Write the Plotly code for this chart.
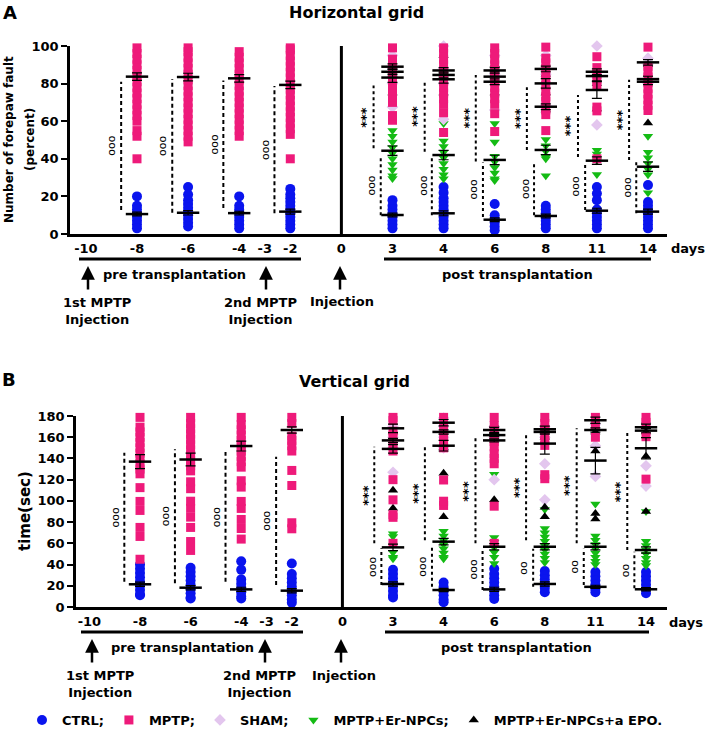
import plotly.graph_objects as go

# ---------------- data ----------------
days = [-10, -8, -6, -4, -2, 0, 3, 4, 6, 8, 11, 14]
tick_days = [-10, -8, -6, -4, -3, -2, 0, 3, 4, 6, 8, 11, 14]
pre_days = [-8, -6, -4, -2]
post_days = [3, 4, 6, 8, 11, 14]
all_days = pre_days + post_days

# Panel A (horizontal grid, % forepaw faults) individual values, aligned with all_days / post_days
ctrl_A = [[20, 15, 13, 11, 9, 7, 5, 3],
          [25, 21, 18, 16, 14, 12, 10, 8, 6, 4],
          [20, 15, 13, 11, 9, 7, 5, 3],
          [24, 21, 19, 17, 15, 13, 11, 9, 7, 5, 3],
          [18, 15, 13, 11, 9, 7, 5, 3],
          [25, 22, 19, 17, 15, 13, 11, 9, 7, 5, 3],
          [16, 10, 8, 6, 4, 2],
          [15, 13, 11, 9, 7, 5, 3],
          [25, 21.5, 18, 13, 11, 9, 7, 5, 3],
          [26, 17, 15, 13, 11, 9, 7, 5, 3]]
mptp_A = [[40, 52, 55, 60, 63, 66, 69, 72, 75, 78, 81, 84, 87, 90, 93, 96, 99],
          [49, 52, 55, 58, 61, 64, 67, 70, 73, 76, 79, 82, 85, 88, 91, 94, 97, 99],
          [52, 55, 58, 61, 64, 67, 70, 73, 76, 79, 82, 85, 88, 91, 94, 97],
          [40, 53, 56, 59, 62, 65, 68, 71, 74, 77, 80, 83, 86, 89, 92, 95, 98, 99],
          [60.5, 63, 70, 73, 76, 79, 82, 85, 88, 91, 93, 99],
          [54, 64.5, 69, 72, 75, 78, 81, 84, 87, 90, 93, 96, 99],
          [54.5, 64, 69, 72, 75, 78, 81, 84, 87, 90, 93, 96, 99],
          [55, 63.5, 66, 70.5, 73, 76, 79, 82, 85, 88, 91, 93.5, 99.4],
          [40, 65.5, 67.5, 79, 82, 85, 88.5, 94.3],
          [65.7, 68.5, 71.5, 74.5, 77.5, 80.5, 83.5, 86.5, 89.2, 99.4]]
sham_A = [[67.5, 80, 88, 95], [61, 80, 88, 100], [66, 85, 95],
          [68.5, 85, 95], [58, 84, 86, 100], [93.5, 80, 90]]
npc_A = [[55, 52, 49, 46, 43, 40, 37, 34, 31, 29.5],
         [58.8, 49.5, 46.5, 43.5, 40.5, 37.5, 34.5, 31.5, 29.4],
         [58.8, 49, 41.4, 38.4, 35.4, 32.4, 29.4, 28.4],
         [50.3, 47, 44, 41, 40, 31],
         [44.5, 42.5, 39, 31.7],
         [52, 43.5, 40.5, 37.5, 34.5, 31.5, 22]]
epo_A = [[75, 85, 90], [75, 85, 95], [75, 85, 90],
         [66, 75, 85], [66.5, 80, 85], [59, 85, 90]]

ctrl_mean_A = [10.6, 11.3, 11.1, 11.9, 10.1, 11.0, 7.6, 9.6, 12.4, 11.9]
ctrl_sem_A = [1.0, 1.2, 1.0, 1.3, 1.0, 1.3, 1.0, 1.0, 1.3, 1.3]
mptp_mean_A = [83.7, 83.5, 82.8, 79.3, 83.2, 82.3, 83.7, 80.1, 84.0, 82.4]
mptp_sem_A = [2.0, 2.0, 2.0, 2.0, 2.5, 2.0, 2.5, 2.5, 2.5, 1.5]
sham_mean_A = [89.0, 87.0, 87.0, 87.8, 86.3, 91.3]
sham_sem_A = [1.5, 1.5, 1.5, 1.5, 1.5, 1.5]
npc_mean_A = [44.3, 42.0, 39.4, 44.7, 39.0, 35.8]
npc_sem_A = [2.5, 2.5, 2.5, 2.5, 2.0, 2.5]
epo_mean_A = [86.3, 84.6, 81.0, 67.7, 76.6, 81.0]
epo_sem_A = [1.5, 1.5, 1.5, 1.5, 4.5, 1.5]

# significance spans, panel A
pre_top_A = [81, 82.4, 81.7, 78.7]
pre_bot_A = [12.8, 11.3, 13.8, 11]
s1_top_A = [79, 81, 84.6, 78, 74, 82]
s1_bot_A = [45.6, 43.8, 38.5, 44.7, 41, 39.4]
s2_top_A = [41, 41, 38, 37.7, 37.7, 38.5]
s2_bot_A = [10, 10, 9, 10, 12.8, 11]
s2_mark_A = ["ooo", "ooo", "ooo", "ooo", "ooo", "ooo"]

# Panel B (vertical grid, time in sec)
ctrl_B = [[40, 36, 32, 28, 24, 20, 16, 12, 11],
          [37, 33, 29, 25, 21, 17, 13, 9, 8],
          [43, 35, 26, 22, 18, 14, 10, 8],
          [41, 31, 27, 23, 19, 15, 11, 7, 4],
          [35, 31, 27, 23, 19, 15, 11, 9],
          [23, 19, 15, 11, 7, 4.5],
          [36, 31, 27, 23, 19, 15, 11, 7.5],
          [34, 30, 26, 22, 18, 14],
          [33, 29, 25, 21, 17, 14],
          [33, 29, 25, 21, 17, 13]]
mptp_B = [[45, 66.5, 75, 91, 99.5, 112.5, 125.5, 130, 135, 140, 145, 150, 155, 160, 165, 169.5, 178.7],
          [53.3, 61.7, 75, 84.7, 93, 99.7, 111.5, 118, 128.3, 133, 138, 143, 148, 153, 158, 163, 168, 173, 178.7],
          [64, 74, 82.5, 92.9, 99.5, 113, 119, 131.8, 137, 142, 147, 152, 157, 162, 167, 172, 178.7],
          [73.7, 79.4, 114.5, 128.7, 147, 152, 157, 161, 173, 178.7],
          [60, 84.5, 87, 101, 120, 147, 152, 161.7, 165.7, 175.7, 178.7],
          [95.7, 99.7, 119.7, 150, 155, 161.7, 169, 178.7],
          [60, 95, 135, 140, 144.5, 151, 156, 161, 166, 171, 178.7],
          [120.9, 124.7, 152.3, 157, 162, 167, 173, 178.7],
          [160, 170.5, 178.7],
          [120.5, 160.5, 174, 178.7]]
sham_B = [[127, 150, 160, 170], [160, 150, 170, 178], [120, 160, 170],
          [101, 135, 160, 170], [123, 152, 172], [114, 133, 170]]
npc_B = [[69, 66.5, 51.3, 47, 45.5],
         [71.5, 67, 63, 59, 55, 51, 47, 45.5],
         [125, 65.5, 61, 56, 51.6, 47, 41],
         [92, 74, 70, 66, 62, 58, 54, 50, 46, 42],
         [97, 67, 63, 59, 55, 51, 47, 43, 40],
         [90, 62, 58, 54, 50, 46, 42, 39]]
epo_B = [[93, 110, 150, 165], [85, 126, 150, 165], [101, 160, 172],
         [85, 94, 160, 170], [83, 88, 147, 165, 175], [90, 142, 165, 175]]

ctrl_mean_B = [21.4, 18.2, 16.6, 15.4, 21.7, 16.0, 16.6, 21.7, 19.0, 16.7]
ctrl_sem_B = [2.0, 2.0, 2.0, 2.0, 2.0, 1.5, 2.0, 2.0, 1.5, 1.5]
mptp_mean_B = [137, 139, 151.7, 166.8, 168.4, 173.7, 166.8, 167.5, 176, 169.4]
mptp_sem_B = [6.6, 6.0, 4.7, 3.0, 4.0, 3.0, 2.5, 3.0, 3.0, 3.0]
sham_mean_B = [157, 165, 162, 165, 166.8, 166.2]
sham_sem_B = [2.0, 2.0, 1.5, 2.0, 2.0, 2.0]
npc_mean_B = [56.2, 61.6, 56.8, 56.8, 56.8, 53.7]
npc_sem_B = [3.0, 3.0, 3.0, 3.0, 3.0, 3.0]
epo_mean_B = [149, 152, 157, 154, 138, 149.6]
epo_sem_B = [4.0, 5.0, 1.5, 10.0, 12.5, 10.0]

pre_top_B = [145.4, 148.6, 146, 141.7]
pre_bot_B = [23.9, 22.3, 23.9, 20.7]
s1_top_B = [151, 151, 159, 162, 168.4, 164]
s1_bot_B = [60, 63, 60, 63, 60, 53.7]
s2_top_B = [55.3, 56.8, 55.6, 55, 55, 52]
s2_bot_B = [20.7, 19, 16, 19, 20.7, 17.6]
s2_mark_B = ["ooo", "ooo", "ooo", "oo", "oo", "oo"]

group_names = ["CTRL;", "MPTP;", "SHAM;", "MPTP+Er-NPCs;", "MPTP+Er-NPCs+a EPO."]
group_colors = ["#0a14ee", "#ee1a7a", "#e3c6ee", "#14bb14", "#000000"]
group_symbols = ["circle", "square", "diamond", "triangle-down", "triangle-up"]

# ---------------- helpers ----------------
W, H = 709, 743
def px(x):
    return x / W
def py(y):
    return 1 - y / H

slot = {d: float(i) for i, d in enumerate(days)}
slot[-3] = (slot[-4] + slot[-2]) / 2

def flat(day_list, groups):
    xs, ys = [], []
    for d, vals in zip(day_list, groups):
        for v in vals:
            xs.append(slot[d])
            ys.append(v)
    return xs, ys

BOLD = dict(family="DejaVu Sans", weight="bold", color="black")

fig = go.Figure()

def add_panel(xa, ya, first, ctrl, mptp, sham, npc, epo, means, sems):
    # draw order: CTRL, Er-NPCs, SHAM, EPO, MPTP
    order = [(0, all_days, ctrl, 10), (3, post_days, npc, 9), (2, post_days, sham, 9),
             (4, post_days, epo, 9), (1, all_days, mptp, 9)]
    for gi, dl, vals, sz in order:
        xs, ys = flat(dl, vals)
        fig.add_trace(go.Scatter(
            x=xs, y=ys, mode="markers", xaxis=xa, yaxis=ya,
            name=group_names[gi], legendgroup=group_names[gi], legendrank=gi + 1,
            showlegend=first,
            marker=dict(symbol=group_symbols[gi], size=sz, color=group_colors[gi],
                        line=dict(width=0)),
            cliponaxis=False, hoverinfo="skip"))
    for gi, dl in [(0, all_days), (3, post_days), (2, post_days), (4, post_days), (1, all_days)]:
        m, s = means[gi], sems[gi]
        fig.add_trace(go.Scatter(
            x=[slot[d] for d in dl], y=m, mode="markers", xaxis=xa, yaxis=ya,
            showlegend=False, cliponaxis=False, hoverinfo="skip",
            marker=dict(symbol="line-ew", size=16, color="black",
                        line=dict(width=2.5, color="black")),
            error_y=dict(type="data", array=s, color="black", thickness=1.2, width=5)))

add_panel("x", "y", True, ctrl_A, mptp_A, sham_A, npc_A, epo_A,
          [ctrl_mean_A, mptp_mean_A, sham_mean_A, npc_mean_A, epo_mean_A],
          [ctrl_sem_A, mptp_sem_A, sham_sem_A, npc_sem_A, epo_sem_A])
add_panel("x2", "y2", False, ctrl_B, mptp_B, sham_B, npc_B, epo_B,
          [ctrl_mean_B, mptp_mean_B, sham_mean_B, npc_mean_B, epo_mean_B],
          [ctrl_sem_B, mptp_sem_B, sham_sem_B, npc_sem_B, epo_sem_B])

shapes = []
annotations = []

def txt(x, y, text, size, bold=True, angle=0, xref="paper", yref="paper"):
    f = dict(size=size, **BOLD) if bold else dict(family="DejaVu Sans", size=size, color="black")
    return dict(xref=xref, yref=yref, x=x, y=y, text=text, showarrow=False,
                textangle=angle, xanchor="center", yanchor="middle", font=f)

OOO_FONT = 11

def sig_panel(xr, yr, pre_top, pre_bot, s1_top, s1_bot, s2_top, s2_bot, s2_mark, zero_top):
    # vertical line at transplantation day 0
    shapes.append(dict(type="line", xref=xr, yref=yr, x0=slot[0], x1=slot[0], y0=0, y1=zero_top,
                       line=dict(color="black", width=3)))
    for d, t, b in zip(pre_days, pre_top, pre_bot):
        x = slot[d] - 0.31
        shapes.append(dict(type="line", xref=xr, yref=yr, x0=x, x1=x, y0=b, y1=t,
                           line=dict(color="black", width=2, dash="4px,3px")))
        annotations.append(txt(slot[d] - 0.49, (t + b) / 2, "ooo", OOO_FONT, bold=False,
                               angle=-90, xref=xr, yref=yr))
    for d, t1, b1, t2, b2, mk in zip(post_days, s1_top, s1_bot, s2_top, s2_bot, s2_mark):
        x1 = slot[d] - 0.37
        x2 = slot[d] - 0.23
        shapes.append(dict(type="line", xref=xr, yref=yr, x0=x1, x1=x1, y0=b1, y1=t1,
                           line=dict(color="black", width=2, dash="dot")))
        shapes.append(dict(type="line", xref=xr, yref=yr, x0=x2, x1=x2, y0=b2, y1=t2,
                           line=dict(color="black", width=2, dash="dot")))
        annotations.append(txt(slot[d] - 0.52, (t1 + b1) / 2, "***", 13, angle=-90,
                               xref=xr, yref=yr))
        annotations.append(txt(slot[d] - 0.41, (t2 + b2) / 2, mk, OOO_FONT, bold=False,
                               angle=-90, xref=xr, yref=yr))

sig_panel("x", "y", pre_top_A, pre_bot_A, s1_top_A, s1_bot_A, s2_top_A, s2_bot_A, s2_mark_A, 103)
sig_panel("x2", "y2", pre_top_B, pre_bot_B, s1_top_B, s1_bot_B, s2_top_B, s2_bot_B, s2_mark_B, 184.7)

def timeline(off, pre_x, post_x, arrows_x, t1x, t2x, injx, prex, postx, daysx):
    for (a, b) in [pre_x, post_x]:
        shapes.append(dict(type="line", xref="paper", yref="paper", x0=px(a), x1=px(b),
                           y0=py(259 + off), y1=py(259 + off), line=dict(color="black", width=3)))
    for ax_ in arrows_x:
        annotations.append(dict(xref="paper", yref="paper", x=px(ax_), y=py(266 + off), ax=0, ay=25,
                                text="", showarrow=True, arrowhead=2, arrowsize=1.1,
                                arrowwidth=2.5, arrowcolor="black"))
    annotations.append(txt(px(prex), py(274 + off), "pre transplantation", 13))
    annotations.append(txt(px(postx), py(274 + off), "post transplantation", 13))
    annotations.append(txt(px(t1x), py(311 + off), "1st MPTP<br>Injection", 13))
    annotations.append(txt(px(t2x), py(311 + off), "2nd MPTP<br>Injection", 13))
    annotations.append(txt(px(injx), py(302 + off), "Injection", 13))
    annotations.append(txt(px(daysx), py(249 + off), "days", 13))

timeline(0, (79, 301), (384, 651), [88, 266, 340], 97, 260, 342, 174, 517, 688)
timeline(373, (81, 303), (385, 649), [92, 265, 341], 100, 259, 344, 182, 516, 686)

# panel letters, titles, axis titles
annotations += [
    txt(px(10), py(13), "A", 18),
    txt(px(9), py(379), "B", 18),
    txt(px(356), py(12), "Horizontal grid", 16),
    txt(px(354), py(381), "Vertical grid", 16),
    txt(px(9), py(140), "Number of forepaw fault", 12, angle=-90),
    txt(px(30), py(139), "(percent)", 12, angle=-90),
    txt(px(25), py(511), "time(sec)", 15, angle=-90),
]

tickvals = [slot[d] for d in tick_days]
ticktext = [str(d) for d in tick_days]

xcommon = dict(showline=True, linewidth=2.5, linecolor="black", ticks="", showgrid=False,
               zeroline=False, tickvals=tickvals, ticktext=ticktext,
               tickfont=dict(size=13, **BOLD), ticklabelstandoff=1, fixedrange=True)
ycommon = dict(showline=True, linewidth=2.5, linecolor="black", ticks="outside", ticklen=6,
               tickwidth=2, tickcolor="black", showgrid=False, zeroline=False,
               tickfont=dict(size=13, **BOLD), fixedrange=True)

fig.update_layout(
    width=W, height=H, margin=dict(l=0, r=0, t=0, b=0, autoexpand=False),
    paper_bgcolor="white", plot_bgcolor="white",
    xaxis=dict(domain=[px(70), px(667)], range=[-0.311, 11.372], anchor="y", **xcommon),
    yaxis=dict(domain=[py(234), py(46)], range=[0, 100], tickvals=[0, 20, 40, 60, 80, 100],
               anchor="x", **ycommon),
    xaxis2=dict(domain=[px(76), px(667)], range=[-0.265, 11.415], anchor="y2", **xcommon),
    yaxis2=dict(domain=[py(607), py(416)], range=[0, 180],
                tickvals=[0, 20, 40, 60, 80, 100, 120, 140, 160, 180], anchor="x2", **ycommon),
    shapes=shapes, annotations=annotations,
    showlegend=True,
    legend=dict(orientation="h", x=px(22), y=py(720), xanchor="left", yanchor="middle",
                font=dict(size=13, **BOLD), bgcolor="rgba(0,0,0,0)", itemwidth=30,
                traceorder="normal"),
)

fig.write_html("out.html", config={"displayModeBar": False},
               post_script="document.body.style.margin='0px';document.body.style.overflow='hidden';")
